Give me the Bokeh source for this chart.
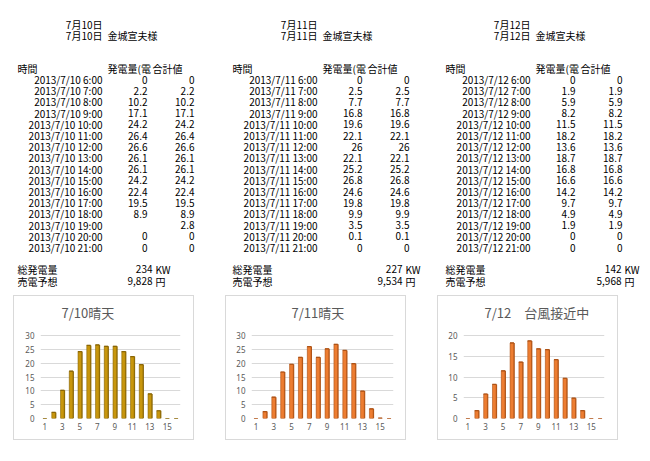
from bokeh.plotting import figure
from bokeh.layouts import column, row
from bokeh.models import Range1d, FixedTicker, Spacer, ColumnDataSource, Label
from bokeh.transform import dodge
from bokeh.core.properties import value
from bokeh.embed import file_html
from bokeh.resources import INLINE

# ---------------- data ----------------
hours = ["6:00", "7:00", "8:00", "9:00", "10:00", "11:00", "12:00", "13:00",
         "14:00", "15:00", "16:00", "17:00", "18:00", "19:00", "20:00", "21:00"]
dates = ["2013/7/10", "2013/7/11", "2013/7/12"]
day_titles = ["7月10日", "7月11日", "7月12日"]
customer = "金城宣夫様"
hdr_time = "時間"
hdr_gen = "発電量(電"
hdr_sum = "合計値"
lbl_total = "総発電量"
lbl_sale = "売電予想"

gen_0710 = [0, 2.2, 10.2, 17.1, 24.2, 26.4, 26.6, 26.1, 26.1, 24.2, 22.4, 19.5, 8.9, None, 0, 0]
sum_0710 = [0, 2.2, 10.2, 17.1, 24.2, 26.4, 26.6, 26.1, 26.1, 24.2, 22.4, 19.5, 8.9, 2.8, 0, 0]
gen_0711 = [0, 2.5, 7.7, 16.8, 19.6, 22.1, 26, 22.1, 25.2, 26.8, 24.6, 19.8, 9.9, 3.5, 0.1, 0]
sum_0711 = [0, 2.5, 7.7, 16.8, 19.6, 22.1, 26, 22.1, 25.2, 26.8, 24.6, 19.8, 9.9, 3.5, 0.1, 0]
gen_0712 = [0, 1.9, 5.9, 8.2, 11.5, 18.2, 13.6, 18.7, 16.8, 16.6, 14.2, 9.7, 4.9, 1.9, 0, 0]
sum_0712 = [0, 1.9, 5.9, 8.2, 11.5, 18.2, 13.6, 18.7, 16.8, 16.6, 14.2, 9.7, 4.9, 1.9, 0, 0]
gen_cols = [gen_0710, gen_0711, gen_0712]
sum_cols = [sum_0710, sum_0711, sum_0712]
total_kw = [234, 227, 142]
sale_yen = [9828, 9534, 5968]
unit_kw = "KW"
unit_yen = "円"

chart_titles = ["7/10晴天", "7/11晴天", "7/12\u3000台風接近中"]
chart_ymax = [30, 30, 20]
chart_xticks = [1, 3, 5, 7, 9, 11, 13, 15]
bar_index = list(range(1, 17))

# ---------------- layout / style ----------------
FONT = "Noto Sans CJK JP"
W, H_TOP = 650, 295
tbl_dx = [0, 215, 428]
x_time, x_date_r, x_c1_l, x_c1_r, x_c2_l, x_c2_r = 17, 102, 107, 147, 152, 194
tot_right = [152, 402, 621]
y_title1, y_title2, y_hdr, y_row0, row_h = 23.5, 34.5, 68, 79, 11.2
y_total, y_sale = 268.5, 280.5

left_t = {"x": [], "y": [], "t": []}
right_t = {"x": [], "y": [], "t": []}


def put(d, x, y, t):
    d["x"].append(x)
    d["y"].append(y)
    d["t"].append(t)


def fmt(v):
    return f"{v:g}"


for k in range(3):
    dx = tbl_dx[k]
    put(right_t, x_date_r + dx, y_title1, day_titles[k])
    put(right_t, x_date_r + dx, y_title2, day_titles[k])
    put(left_t, x_c1_l + dx, y_title2, customer)
    put(left_t, x_time + dx, y_hdr, hdr_time)
    put(left_t, x_c1_l + dx, y_hdr, hdr_gen)
    put(left_t, x_c2_l + dx, y_hdr, hdr_sum)
    for i, h in enumerate(hours):
        y = y_row0 + i * row_h
        put(right_t, x_date_r + dx, y, f"{dates[k]} {h}")
        g = gen_cols[k][i]
        if g is not None:
            put(right_t, x_c1_r + dx, y, fmt(g))
        put(right_t, x_c2_r + dx, y, fmt(sum_cols[k][i]))
    put(left_t, x_time + dx, y_total, lbl_total)
    put(left_t, x_time + dx, y_sale, lbl_sale)
    put(right_t, tot_right[k], y_total, f"{total_kw[k]:,}")
    put(right_t, tot_right[k], y_sale, f"{sale_yen[k]:,}")
    put(left_t, tot_right[k] + 3, y_total, unit_kw)
    put(left_t, tot_right[k] + 3, y_sale, unit_yen)

top = figure(width=W, height=H_TOP, x_range=Range1d(0, W), y_range=Range1d(H_TOP, 0),
             output_backend="svg", toolbar_location=None,
             x_axis_location=None, y_axis_location=None, min_border=0)
top.grid.visible = False
top.outline_line_color = None
for d, al in ((left_t, "left"), (right_t, "right")):
    top.text(x="x", y="y", text="t", source=ColumnDataSource(d), text_align=al,
             text_baseline="middle", text_font=value(FONT), text_font_size="10px",
             text_color="#000000")

# ---------------- charts ----------------
fills = ["#C8960C", "#ED7D31", "#ED7D31"]
edges = ["#8A6606", "#AE5316", "#AE5316"]
title_left_px = [21, 40, 21]     # title left edge, px from plot-area left
borders = [(26, 15), (25, 14), (25, 15)]
CH_W, CH_H, B_BOT = 181, 145, 23
PAD_TOP, TITLE_Y = 39, 16        # px from chart top: top gridline, title centre
X0, X1 = 0.5, 16.5


def make_chart(k):
    ymax = chart_ymax[k]
    bl, br = borders[k]
    fh = CH_H - B_BOT
    fw = CH_W - bl - br
    y_end = ymax * fh / (fh - PAD_TOP)
    p = figure(width=CH_W, height=CH_H, x_range=Range1d(X0, X1), y_range=Range1d(0, y_end),
               output_backend="svg", toolbar_location=None,
               min_border_left=bl, min_border_right=br, min_border_top=0,
               min_border_bottom=B_BOT)
    p.styles = {"border": "1px solid #d9d9d9"}
    p.outline_line_color = None
    p.add_layout(Label(x=X0 + title_left_px[k] * (X1 - X0) / fw,
                       y=ymax * (fh - TITLE_Y) / (fh - PAD_TOP),
                       text=chart_titles[k], text_font=FONT, text_font_size="13px",
                       text_color="#595959", text_baseline="middle", text_align="left"))
    src = ColumnDataSource(dict(x=bar_index, v=sum_cols[k]))
    p.vbar(x=dodge("x", 0.08, range=p.x_range), top="v", width=0.47, source=src,
           fill_color=edges[k], line_color=None)
    p.vbar(x="x", top="v", width=0.42, source=src, fill_color=fills[k],
           line_color=edges[k], line_width=0.6)
    p.scatter(x="x", y="v", source=src, marker="dash", size=4, line_color=edges[k], line_width=1.2)
    yt = list(range(0, ymax + 1, 5))
    p.yaxis.ticker = FixedTicker(ticks=yt)
    p.xaxis.ticker = FixedTicker(ticks=chart_xticks)
    p.ygrid.ticker = FixedTicker(ticks=yt)
    p.ygrid.grid_line_color = "#d9d9d9"
    p.xgrid.grid_line_color = None
    for ax in (p.xaxis[0], p.yaxis[0]):
        ax.axis_line_color = None
        ax.major_tick_line_color = None
        ax.minor_tick_line_color = None
        ax.major_tick_out = 0
        ax.major_tick_in = 0
        ax.minor_tick_out = 0
        ax.major_label_text_font = "Noto Sans"
        ax.major_label_text_font_size = "8px"
        ax.major_label_text_color = "#595959"
        ax.major_label_standoff = 6
    p.xaxis[0].major_label_standoff = 4
    return p


charts = [make_chart(k) for k in range(3)]
bottom = row(Spacer(width=13, height=1), charts[0], Spacer(width=31, height=1), charts[1],
             Spacer(width=31, height=1), charts[2])
layout = column(top, bottom)

open("out.html", "w").write(file_html(layout, INLINE))
